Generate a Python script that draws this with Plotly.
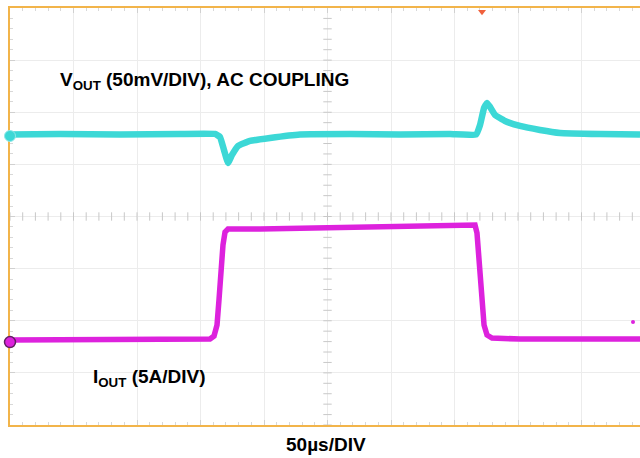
import numpy as np
import plotly.graph_objects as go

# Time axis in divisions (50 µs/DIV), amplitude in divisions
vout_t = [0, 0.787, 1.732, 2.677, 3.228, 3.307, 3.37, 3.433, 3.496, 3.591, 3.78, 4.094,
          4.567, 5.354, 6.142, 6.929, 7.339, 7.402, 7.465, 7.512, 7.559, 7.638, 7.795,
          8.031, 8.346, 8.661, 9.291, 9.921]
vout_div = [1.574, 1.583, 1.574, 1.583, 1.583, 1.526, 1.276, 1.027, 1.180, 1.353, 1.449, 1.507,
            1.574, 1.583, 1.574, 1.583, 1.574, 1.756, 2.083, 2.179, 2.102, 1.948, 1.833,
            1.737, 1.660, 1.603, 1.583, 1.574]

iout_t = [0, 1.417, 2.992, 3.15, 3.213, 3.26, 3.291, 3.323, 3.354, 3.386, 3.433, 3.937,
          4.567, 5.354, 6.142, 6.929, 7.323, 7.354, 7.386, 7.417, 7.465, 7.512, 7.591,
          8.031, 8.976, 9.921]
iout_div = [-2.370, -2.370, -2.370, -2.351, -2.294, -2.083, -1.603, -1.027, -0.547, -0.298,
            -0.240, -0.240, -0.221, -0.202, -0.183, -0.163, -0.163, -0.317, -0.893, -1.603,
            -2.083, -2.274, -2.332, -2.351, -2.351, -2.351]

stray_t = [9.811]
stray_div = [-2.025]

label_vout = "<b>V<sub>OUT</sub> (50mV/DIV), AC COUPLING</b>"
label_iout = "<b>I<sub>OUT</sub> (5A/DIV)</b>"
label_time = "<b>50µs/DIV</b>"

X_MAX = 9.921
CYAN = "#3cd8d6"
MAGENTA = "#dd22dd"
FRAME = "#f2b44a"
FONT = "Liberation Sans"

fig = go.Figure()

# center-line tick marks
ht = np.arange(0, X_MAX, 0.2)
vt = np.arange(-4, 4.01, 0.2)
fig.add_trace(go.Scatter(x=ht, y=[0] * len(ht), mode="markers",
                         marker=dict(symbol="line-ns", size=6, line=dict(color="#c8c8c8", width=1)),
                         hoverinfo="skip", showlegend=False))
fig.add_trace(go.Scatter(x=[5] * len(vt), y=vt, mode="markers",
                         marker=dict(symbol="line-ew", size=6, line=dict(color="#c8c8c8", width=1)),
                         hoverinfo="skip", showlegend=False))

fig.add_trace(go.Scatter(x=vout_t, y=vout_div, mode="lines",
                         line=dict(color=CYAN, width=6.5, shape="spline", smoothing=0.3),
                         showlegend=False))
fig.add_trace(go.Scatter(x=iout_t, y=iout_div, mode="lines",
                         line=dict(color=MAGENTA, width=5.5),
                         showlegend=False))
fig.add_trace(go.Scatter(x=stray_t, y=stray_div, mode="markers",
                         marker=dict(color=MAGENTA, size=4), showlegend=False))

# ground markers and trigger marker
fig.add_trace(go.Scatter(x=[0], y=[1.545], mode="markers",
                         marker=dict(color=CYAN, size=11, line=dict(color="#8fe8e8", width=1)),
                         cliponaxis=False, showlegend=False))
fig.add_trace(go.Scatter(x=[0], y=[-2.41], mode="markers",
                         marker=dict(color=MAGENTA, size=11, line=dict(color="#602060", width=1.5)),
                         cliponaxis=False, showlegend=False))
fig.add_trace(go.Scatter(x=[7.433], y=[3.93], mode="markers",
                         marker=dict(symbol="triangle-down", color="#f0603c", size=7),
                         cliponaxis=False, showlegend=False))

fig.add_shape(type="line", x0=5, x1=5, y0=-4, y1=4, line=dict(color="#cfcfcf", width=1), layer="below")
fig.add_shape(type="line", x0=0, x1=X_MAX, y0=0, y1=0, line=dict(color="#cfcfcf", width=1), layer="below")

fig.add_annotation(x=0.75, y=2.60, xanchor="left", yanchor="middle", text=label_vout,
                   showarrow=False, font=dict(family=FONT, size=19, color="black"))
fig.add_annotation(x=1.27, y=-3.10, xanchor="left", yanchor="middle", text=label_iout,
                   showarrow=False, font=dict(family=FONT, size=19, color="black"))
fig.add_annotation(x=4.976, y=-0.046, yref="paper", xanchor="center", yanchor="middle",
                   text=label_time, showarrow=False, font=dict(family=FONT, size=19, color="black"))

fig.update_layout(
    width=640, height=458,
    margin=dict(l=10, r=0, t=8, b=33),
    paper_bgcolor="white", plot_bgcolor="white",
    font=dict(family=FONT),
    xaxis=dict(range=[0, X_MAX], dtick=1, tick0=0, showgrid=True, gridcolor="#ececec",
               zeroline=False, showticklabels=False, showline=True, linecolor=FRAME,
               linewidth=2, mirror="ticks", ticks="inside", ticklen=5, tickcolor="#d0d0d0",
               layer="below traces",
               minor=dict(dtick=0.2, ticks="inside", ticklen=3, tickcolor="#d8d8d8", showgrid=False)),
    yaxis=dict(range=[-4, 4], dtick=1, tick0=0, showgrid=True, gridcolor="#ececec",
               zeroline=False, showticklabels=False, showline=True, linecolor=FRAME,
               linewidth=2, mirror=False, ticks="inside", ticklen=5, tickcolor="#d0d0d0",
               layer="below traces",
               minor=dict(dtick=0.2, ticks="inside", ticklen=3, tickcolor="#d8d8d8", showgrid=False)),
)

fig.write_html("out.html", config={"displayModeBar": False},
               post_script="document.body.style.margin='0';document.body.style.overflow='hidden';")
